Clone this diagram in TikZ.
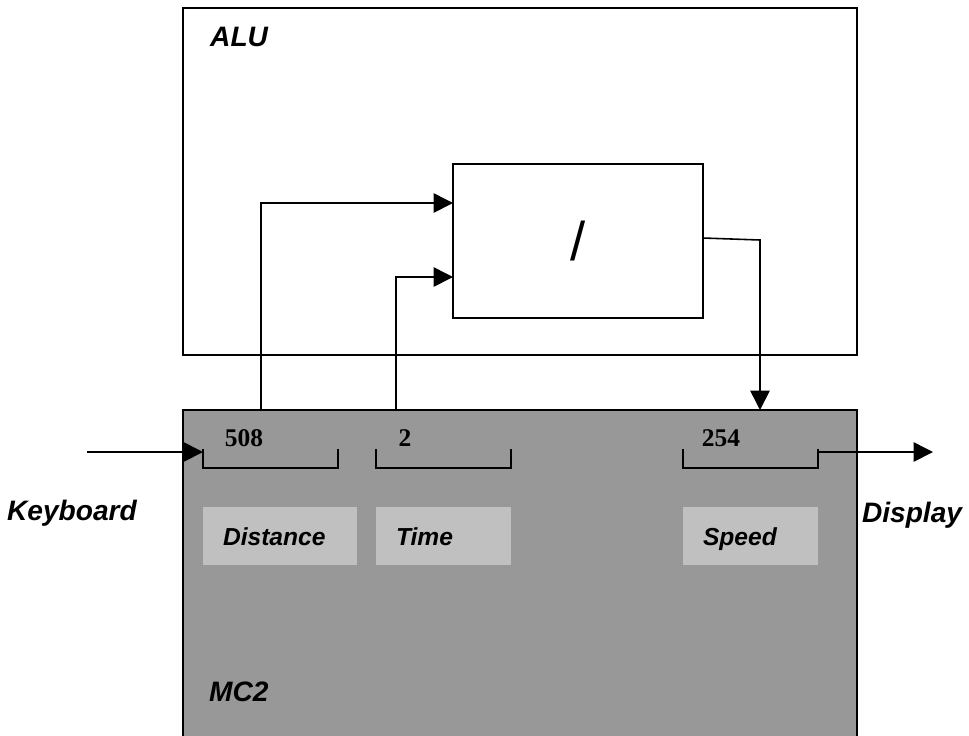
\documentclass[tikz,border=0pt]{standalone}
\usepackage{fontspec}
\setmainfont{Liberation Sans}
\newfontfamily\regfont{Liberation Serif}
\usetikzlibrary{arrows.meta, positioning}
\definecolor{mcgray}{RGB}{152,152,152}
\definecolor{taggray}{RGB}{192,192,192}

\begin{document}
\begin{tikzpicture}[
    x=0.02cm, y=-0.02cm,
    unit/.style={rectangle, draw=black, line width=1.1pt,
                 inner sep=0pt, outer sep=0pt},
    reg/.style={rectangle, inner sep=0pt, outer sep=0pt,
                minimum width=2.7cm, minimum height=0.38cm},
    tagbox/.style={rectangle, fill=taggray, inner ysep=0pt, inner xsep=0.4cm,
                   minimum height=1.16cm, text width=#1, align=left,
                   text height=1.05em, text depth=0pt,
                   font=\fontsize{14}{16}\selectfont\bfseries\itshape},
    caption/.style={font=\fontsize{16}{19}\selectfont\bfseries\itshape},
    num/.style={font=\fontsize{14.5}{17}\selectfont\regfont\bfseries},
    brk/.style={line width=0.9pt},
    arr/.style={-{Triangle[length=11pt, width=11pt]}, line width=0.9pt}
  ]
    \useasboundingbox (0,0) rectangle (969,735);

    % ALU and divider
    \node[unit, minimum width=13.48cm, minimum height=6.94cm] (alu) at (520,181.5) {};
    \node[caption, anchor=west] (alulbl) at (204,37) {ALU};
    \node[unit, minimum width=5cm, minimum height=3.08cm,
          font=\fontsize{31}{36}\selectfont] (div) at (578,241) {/};

    % MC2 memory
    \node[unit, fill=mcgray, minimum width=13.48cm, minimum height=6.9cm] (mc2) at (520,582.5) {};
    \node[caption, anchor=west] (mclbl) at (203,692) {MC2};

    % registers
    \node[reg] (r508) at (270.5,458.5) {};
    \node[reg] (r2)   at (443.5,458.5) {};
    \node[reg] (r254) at (750.5,458.5) {};
    \foreach \r in {r508, r2, r254}
      \draw[brk] (\r.north west) |- (\r.south east) -- (\r.north east);

    \node[num] (v508) at (244,438) {508};
    \node[num] (v2)   at (405,438) {2};
    \node[num] (v254) at (721,438) {254};

    \node[tagbox=2.28cm] (tdist)  at (280,536)   {Distance};
    \node[tagbox=1.9cm]  (ttime)  at (443.5,536) {Time};
    \node[tagbox=1.9cm]  (tspeed) at (750.5,536) {Speed};

    % ports
    \coordinate (p1) at (261,410);
    \coordinate (p2) at (396,410);
    \coordinate (p3) at (760,410);
    \coordinate (in1) at (453,203);
    \coordinate (in2) at (453,277);
    \coordinate (out) at (703,238);
    \coordinate (kb)  at (87,452);
    \coordinate (ds)  at (933,452);

    \draw[arr] (p1) |- (in1);
    \draw[arr] (p2) |- (in2);
    \draw[arr] (out) -- (760,240) -- (p3);

    % keyboard and display
    \draw[arr] (kb) -- (kb -| r508.west);
    \draw[arr] (ds -| r254.east) -- (ds);
    \node[caption] (kblbl) at (72,513) {Keyboard};
    \node[caption] (dslbl) at (912,515) {Display};
  \end{tikzpicture}
\end{document}
